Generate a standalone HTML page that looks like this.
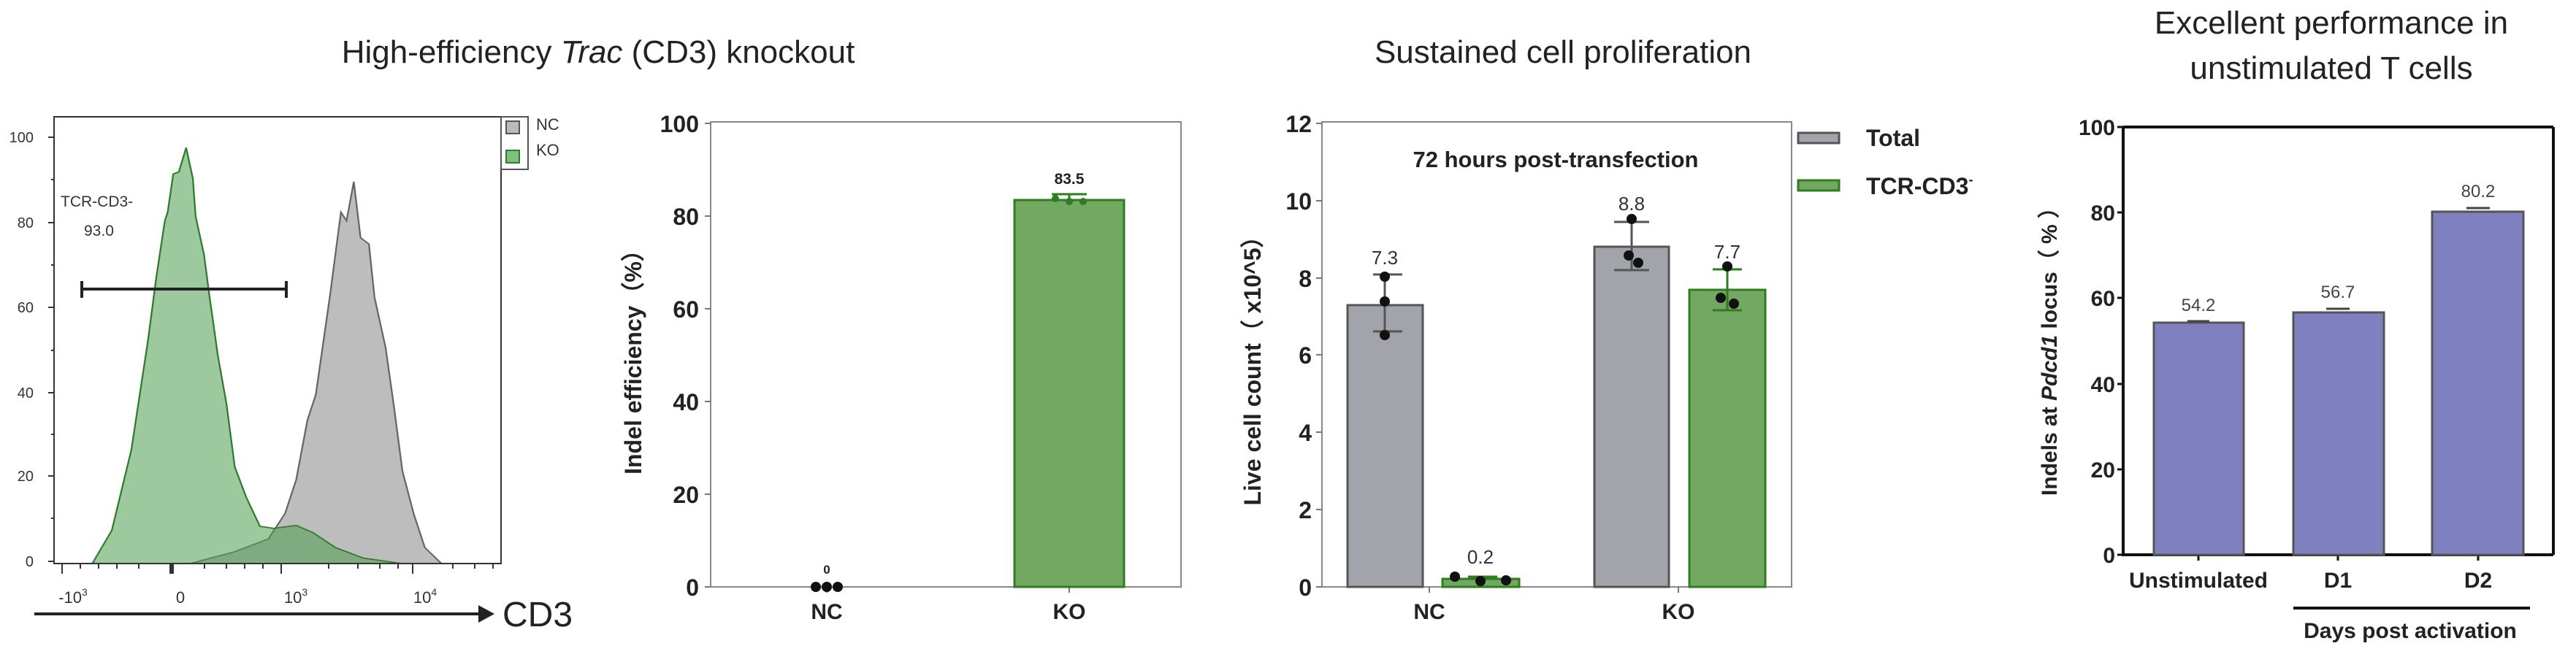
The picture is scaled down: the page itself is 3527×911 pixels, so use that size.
<!DOCTYPE html>
<html><head><meta charset="utf-8"><style>
html,body{margin:0;padding:0;background:#fff;width:3527px;height:911px;overflow:hidden}
svg{display:block}
text{font-family:"Liberation Sans",Arial,sans-serif}
.b{font-weight:bold}
</style></head><body>
<svg width="3527" height="911" viewBox="0 0 3527 911" xmlns="http://www.w3.org/2000/svg">
<!-- Titles -->
<text x="819" y="86" font-size="44" text-anchor="middle" fill="#222">High-efficiency <tspan font-style="italic">Trac</tspan> (CD3) knockout</text>
<text x="2140" y="86" font-size="44" text-anchor="middle" fill="#222">Sustained cell proliferation</text>
<text x="3192" y="46" font-size="44" text-anchor="middle" fill="#222">Excellent performance in</text>
<text x="3192" y="108" font-size="44" text-anchor="middle" fill="#222">unstimulated T cells</text>

<!-- Panel 1 flow histogram -->
<g transform="scale(0.7653,0.5814)">
<path d="M340,1328 L420,1300 L480,1270 L510,1210 L530,1130 L550,990 L565,930 L590,700 L610,500 L620,520 L633,428 L645,560 L660,575 L670,700 L690,820 L705,960 L720,1110 L740,1210 L760,1290 L790,1328 Z" fill="#bdbdbd" stroke="#666" stroke-width="3"/>
<path d="M165,1328 L200,1250 L235,1060 L265,800 L280,650 L295,520 L300,500 L310,410 L320,405 L333,348 L345,420 L350,510 L365,600 L375,700 L390,840 L405,950 L420,1100 L440,1170 L465,1240 L490,1245 L530,1238 L560,1255 L600,1290 L650,1315 L720,1328 Z" fill="#4f9a4f" fill-opacity="0.55" stroke="#2e7d2e" stroke-width="3"/>
</g>
<rect x="74" y="160" width="612" height="612" fill="none" stroke="#333" stroke-width="2"/>
<g stroke="#333" stroke-width="2">
<line x1="66" y1="188" x2="74" y2="188"/><line x1="66" y1="305" x2="74" y2="305"/><line x1="66" y1="421" x2="74" y2="421"/><line x1="66" y1="538" x2="74" y2="538"/><line x1="66" y1="652" x2="74" y2="652"/><line x1="66" y1="769" x2="74" y2="769"/>
<line x1="70" y1="246" x2="74" y2="246"/><line x1="70" y1="363" x2="74" y2="363"/><line x1="70" y1="480" x2="74" y2="480"/><line x1="70" y1="595" x2="74" y2="595"/><line x1="70" y1="710" x2="74" y2="710"/>
<line x1="85" y1="772" x2="85" y2="786"/><line x1="235" y1="772" x2="235" y2="786" stroke-width="6"/><line x1="385" y1="772" x2="385" y2="786"/><line x1="565" y1="772" x2="565" y2="786"/>
<line x1="110" y1="772" x2="110" y2="779"/><line x1="135" y1="772" x2="135" y2="779"/><line x1="160" y1="772" x2="160" y2="779"/><line x1="190" y1="772" x2="190" y2="779"/><line x1="280" y1="772" x2="280" y2="779"/><line x1="310" y1="772" x2="310" y2="779"/><line x1="335" y1="772" x2="335" y2="779"/><line x1="360" y1="772" x2="360" y2="779"/><line x1="450" y1="772" x2="450" y2="779"/><line x1="490" y1="772" x2="490" y2="779"/><line x1="520" y1="772" x2="520" y2="779"/><line x1="545" y1="772" x2="545" y2="779"/><line x1="620" y1="772" x2="620" y2="779"/><line x1="650" y1="772" x2="650" y2="779"/><line x1="675" y1="772" x2="675" y2="779"/>
</g>
<g font-size="20" fill="#333" text-anchor="end">
<text x="46" y="195">100</text><text x="46" y="312">80</text><text x="46" y="428">60</text><text x="46" y="545">40</text><text x="46" y="659">20</text><text x="46" y="776">0</text>
</g>
<g font-size="22" fill="#333" text-anchor="middle">
<text x="100" y="826">-10<tspan font-size="14" dy="-10">3</tspan></text>
<text x="247" y="826">0</text>
<text x="405" y="826">10<tspan font-size="14" dy="-10">3</tspan></text>
<text x="582" y="826">10<tspan font-size="14" dy="-10">4</tspan></text>
</g>
<line x1="47" y1="841" x2="660" y2="841" stroke="#222" stroke-width="4"/>
<polygon points="655,829 677,841 655,853" fill="#222"/>
<text x="688" y="858" font-size="48" fill="#222">CD3</text>
<rect x="686" y="160" width="37" height="72" fill="#fff" stroke="#555" stroke-width="2"/>
<rect x="693" y="166" width="18" height="17" fill="#bbb" stroke="#555" stroke-width="2"/>
<rect x="693" y="206" width="18" height="17" fill="#7fbf7f" stroke="#2e7d2e" stroke-width="2"/>
<text x="734" y="178" font-size="22" fill="#333">NC</text>
<text x="734" y="213" font-size="22" fill="#333">KO</text>
<line x1="112" y1="396" x2="392" y2="396" stroke="#222" stroke-width="4"/>
<line x1="112" y1="385" x2="112" y2="408" stroke="#222" stroke-width="4"/><line x1="392" y1="385" x2="392" y2="408" stroke="#222" stroke-width="4"/>
<text x="83" y="283" font-size="21" fill="#333">TCR-CD3-</text>
<text x="115" y="323" font-size="21" fill="#333">93.0</text>

<!-- Panel 2 indel efficiency -->
<rect x="973" y="167" width="644" height="637" fill="none" stroke="#888" stroke-width="2"/>
<g stroke="#777" stroke-width="2">
<line x1="965" y1="169" x2="973" y2="169"/><line x1="965" y1="296" x2="973" y2="296"/><line x1="965" y1="423" x2="973" y2="423"/><line x1="965" y1="550" x2="973" y2="550"/><line x1="965" y1="677" x2="973" y2="677"/><line x1="965" y1="804" x2="973" y2="804"/>
<line x1="1132" y1="804" x2="1132" y2="812"/><line x1="1464" y1="804" x2="1464" y2="812"/>
</g>
<g class="b" font-size="32" fill="#222" text-anchor="end">
<text x="957" y="181">100</text><text x="957" y="308">80</text><text x="957" y="435">60</text><text x="957" y="562">40</text><text x="957" y="689">20</text><text x="957" y="816">0</text>
</g>
<rect x="1389" y="274" width="150" height="530" fill="#72a862" stroke="#2e7d1e" stroke-width="3"/>
<line x1="1440" y1="266" x2="1488" y2="266" stroke="#2e7d1e" stroke-width="3"/><line x1="1464" y1="266" x2="1464" y2="274" stroke="#2e7d1e" stroke-width="3"/>
<circle cx="1445" cy="272" r="5" fill="#2e7d1e"/><circle cx="1464" cy="276" r="5" fill="#2e7d1e"/><circle cx="1483" cy="276" r="5" fill="#2e7d1e"/>
<text x="1464" y="252" font-size="21" text-anchor="middle" fill="#222" class="b">83.5</text>
<circle cx="1117" cy="804" r="7" fill="#111"/><circle cx="1132" cy="804" r="7" fill="#111"/><circle cx="1147" cy="804" r="7" fill="#111"/>
<text x="1132" y="786" font-size="17" text-anchor="middle" fill="#222" class="b">0</text>
<g class="b" font-size="30" fill="#222" text-anchor="middle"><text x="1132" y="848">NC</text><text x="1464" y="848">KO</text></g>
<text transform="translate(878,488) rotate(-90)" class="b" font-size="32" fill="#222" text-anchor="middle">Indel efficiency（%）</text>

<!-- Panel 3 live cell count -->
<rect x="1810" y="167" width="643" height="637" fill="none" stroke="#888" stroke-width="2"/>
<g stroke="#777" stroke-width="2">
<line x1="1802" y1="169" x2="1810" y2="169"/><line x1="1802" y1="275" x2="1810" y2="275"/><line x1="1802" y1="381" x2="1810" y2="381"/><line x1="1802" y1="486" x2="1810" y2="486"/><line x1="1802" y1="592" x2="1810" y2="592"/><line x1="1802" y1="698" x2="1810" y2="698"/><line x1="1802" y1="804" x2="1810" y2="804"/>
<line x1="1957" y1="804" x2="1957" y2="812"/><line x1="2298" y1="804" x2="2298" y2="812"/>
</g>
<g class="b" font-size="32" fill="#222" text-anchor="end">
<text x="1796" y="181">12</text><text x="1796" y="287">10</text><text x="1796" y="393">8</text><text x="1796" y="498">6</text><text x="1796" y="604">4</text><text x="1796" y="710">2</text><text x="1796" y="816">0</text>
</g>
<text x="2130" y="229" class="b" font-size="31" text-anchor="middle" fill="#222">72 hours post-transfection</text>
<rect x="1845" y="418" width="103" height="386" fill="#a3a3ab" stroke="#555" stroke-width="3"/>
<rect x="1975" y="793" width="105" height="11" fill="#72a862" stroke="#2e7d1e" stroke-width="3"/>
<rect x="2183" y="338" width="102" height="466" fill="#a3a3ab" stroke="#555" stroke-width="3"/>
<rect x="2313" y="397" width="104" height="407" fill="#72a862" stroke="#2e7d1e" stroke-width="3"/>
<g stroke="#555" stroke-width="3">
<line x1="1896" y1="376" x2="1896" y2="454"/><line x1="1880" y1="376" x2="1920" y2="376"/><line x1="1880" y1="454" x2="1920" y2="454"/>
<line x1="2234" y1="304" x2="2234" y2="370"/><line x1="2210" y1="304" x2="2258" y2="304"/><line x1="2210" y1="370" x2="2258" y2="370"/>
</g>
<g stroke="#2e7d1e" stroke-width="3">
<line x1="2365" y1="369" x2="2365" y2="425"/><line x1="2345" y1="369" x2="2385" y2="369"/><line x1="2345" y1="425" x2="2385" y2="425"/>
<line x1="2010" y1="790" x2="2050" y2="790"/>
</g>
<g fill="#111">
<circle cx="1896" cy="379" r="7"/><circle cx="1896" cy="413" r="7"/><circle cx="1896" cy="459" r="7"/>
<circle cx="1992" cy="790" r="7"/><circle cx="2027" cy="796" r="7"/><circle cx="2062" cy="795" r="7"/>
<circle cx="2234" cy="300" r="7"/><circle cx="2230" cy="350" r="7"/><circle cx="2243" cy="360" r="7"/>
<circle cx="2365" cy="365" r="7"/><circle cx="2356" cy="408" r="7"/><circle cx="2374" cy="416" r="7"/>
</g>
<g font-size="26" fill="#333" text-anchor="middle">
<text x="1896" y="362">7.3</text><text x="2027" y="772">0.2</text><text x="2234" y="288">8.8</text><text x="2365" y="354">7.7</text>
</g>
<g class="b" font-size="30" fill="#222" text-anchor="middle"><text x="1957" y="848">NC</text><text x="2298" y="848">KO</text></g>
<text transform="translate(1726,500) rotate(-90)" class="b" font-size="32" fill="#222" text-anchor="middle">Live cell count（ x10^5）</text>
<rect x="2462" y="182" width="56" height="14" fill="#a3a3ab" stroke="#555" stroke-width="3"/>
<rect x="2462" y="247" width="56" height="14" fill="#72a862" stroke="#2e7d1e" stroke-width="3"/>
<text x="2555" y="200" class="b" font-size="32" fill="#222">Total</text>
<text x="2555" y="266" class="b" font-size="32" fill="#222">TCR-CD3<tspan font-size="18" dy="-14">-</tspan></text>

<!-- Panel 4 -->
<line x1="2907" y1="174" x2="3496" y2="174" stroke="#111" stroke-width="4"/>
<line x1="3496" y1="174" x2="3496" y2="760" stroke="#111" stroke-width="4"/>
<line x1="2907" y1="174" x2="2907" y2="760" stroke="#111" stroke-width="4"/>
<line x1="2905" y1="760" x2="3496" y2="760" stroke="#111" stroke-width="4"/>
<g stroke="#111" stroke-width="3">
<line x1="2899" y1="174" x2="2907" y2="174"/><line x1="2899" y1="291" x2="2907" y2="291"/><line x1="2899" y1="408" x2="2907" y2="408"/><line x1="2899" y1="526" x2="2907" y2="526"/><line x1="2899" y1="643" x2="2907" y2="643"/><line x1="2899" y1="760" x2="2907" y2="760"/>
<line x1="3010" y1="760" x2="3010" y2="768"/><line x1="3201" y1="760" x2="3201" y2="768"/><line x1="3393" y1="760" x2="3393" y2="768"/>
</g>
<g class="b" font-size="30" fill="#222" text-anchor="end">
<text x="2896" y="185">100</text><text x="2896" y="302">80</text><text x="2896" y="419">60</text><text x="2896" y="537">40</text><text x="2896" y="654">20</text><text x="2896" y="771">0</text>
</g>
<rect x="2949" y="442" width="123" height="318" fill="#7f80c0" stroke="#555" stroke-width="3"/>
<rect x="3140" y="428" width="124" height="332" fill="#7f80c0" stroke="#555" stroke-width="3"/>
<rect x="3330" y="290" width="125" height="470" fill="#7f80c0" stroke="#555" stroke-width="3"/>
<g stroke="#444" stroke-width="3">
<line x1="2995" y1="440" x2="3025" y2="440"/><line x1="3185" y1="423" x2="3217" y2="423"/><line x1="3377" y1="285" x2="3409" y2="285"/>
</g>
<g font-size="24" fill="#444" text-anchor="middle">
<text x="3010" y="426">54.2</text><text x="3201" y="408">56.7</text><text x="3393" y="270">80.2</text>
</g>
<g class="b" font-size="30" fill="#222" text-anchor="middle"><text x="3010" y="805">Unstimulated</text><text x="3201" y="805">D1</text><text x="3393" y="805">D2</text></g>
<line x1="3140" y1="833" x2="3464" y2="833" stroke="#111" stroke-width="4"/>
<text x="3300" y="874" class="b" font-size="30" fill="#222" text-anchor="middle">Days post activation</text>
<text transform="translate(2816,474) rotate(-90)" class="b" font-size="30" fill="#222" text-anchor="middle">Indels at <tspan font-style="italic">Pdcd1</tspan> locus（ % ）</text>
</svg>
</body></html>
